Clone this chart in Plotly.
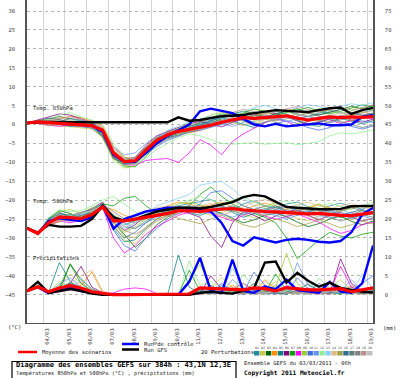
import plotly.graph_objects as go

# ---------------- DATA ----------------
hours = list(range(0, 385, 12))
date_ticks = [18 + 24 * k for k in range(16)]
date_labels = ["04/03", "05/03", "06/03", "07/03", "08/03", "09/03", "10/03", "11/03",
               "12/03", "13/03", "14/03", "15/03", "16/03", "17/03", "18/03", "19/03"]
left_ticks = list(range(-45, 31, 5))
right_ticks = list(range(0, 76, 5))

member_colors = ["#1f8a9a", "#c8c850", "#006400", "#ff8c00", "#008080", "#800080", "#00a000",
                 "#ff00ff", "#9acd32", "#4169e1", "#6495ed", "#90ee90", "#87cefa", "#deb887",
                 "#a0a040", "#2f6f8f", "#5f7f7f", "#808080", "#bc8f8f", "#c0c0c0"]

t850_members = [
    [0.4,0.9,1.2,0.8,0.2,-0.3,-0.6,-2.5,-8.2,-10.4,-10.1,-7.0,-3.5,-2.0,-1.2,-0.5,0.3,1.2,2.0,3.1,2.5,1.8,3.0,3.5,2.8,1.5,2.2,3.0,3.8,3.2,2.5,3.1,3.9],
    [0.4,0.6,0.1,-0.4,-0.6,-0.8,-1.2,-3.0,-9.0,-10.8,-10.5,-8.0,-5.5,-3.8,-2.5,-1.8,-1.0,-0.2,1.0,1.5,0.8,0.2,1.3,2.0,2.6,2.0,0.8,1.2,1.8,0.5,1.0,2.2,2.8],
    [0.4,1.0,1.6,2.1,1.5,0.8,0.3,-3.5,-9.0,-10.2,-10.0,-7.5,-4.8,-3.0,-2.0,-1.0,-0.5,0.5,1.5,2.8,3.5,2.9,2.0,2.8,3.5,4.2,3.0,2.5,3.2,4.0,4.8,4.1,5.0],
    [0.4,0.5,0.8,1.5,2.2,1.8,0.9,-0.5,-5.8,-8.6,-9.3,-6.0,-3.2,-2.0,-1.5,-2.2,-1.6,-0.5,0.8,1.2,2.4,3.0,2.2,1.5,2.0,2.8,2.2,1.0,0.5,1.5,2.7,3.4,2.6],
    [0.4,0.8,0.4,0.0,-0.5,-0.2,0.2,-1.8,-7.8,-10.1,-9.5,-6.2,-4.0,-3.5,-2.8,-1.5,-0.2,1.0,1.8,1.0,0.2,-0.8,0.5,1.8,2.5,1.2,0.0,-0.5,0.8,1.6,0.9,0.2,1.0],
    [0.4,1.2,1.9,2.8,2.5,1.6,0.5,-2.2,-8.5,-9.8,-8.8,-5.5,-3.0,-1.8,-0.8,0.2,0.8,0.2,-0.6,0.5,1.6,2.5,3.3,2.9,2.1,1.0,-0.2,0.6,1.5,2.3,1.2,0.6,1.4],
    [0.4,0.7,0.2,0.5,0.9,0.4,-0.2,-2.8,-8.8,-11.0,-11.2,-8.5,-5.0,-3.2,-1.5,-0.5,0.5,1.8,2.8,2.2,3.0,4.1,3.5,2.5,3.2,3.8,4.5,3.6,2.8,3.5,4.3,5.2,4.6],
    [0.4,0.3,-0.2,-0.5,-0.1,0.3,-0.4,-1.5,-7.0,-10.5,-10.8,-9.5,-9.2,-9.0,-10.0,-7.5,-4.0,-5.5,-8.0,-4.5,-2.5,-1.0,0.5,1.5,0.8,-0.5,0.8,1.8,1.2,0.3,1.0,2.0,1.5],
    [0.4,0.9,1.5,1.2,0.6,0.0,-0.8,-3.5,-9.5,-11.5,-11.0,-7.2,-4.5,-2.5,-1.0,0.5,1.2,2.5,3.2,2.5,1.5,2.2,3.0,4.0,3.4,2.5,3.1,4.2,3.5,2.8,3.6,4.5,3.8],
    [0.4,0.6,1.0,0.4,-0.3,-0.6,-0.9,-2.0,-7.2,-9.5,-9.8,-7.8,-5.8,-4.2,-3.0,-2.0,-1.5,-0.8,0.0,0.8,1.5,0.5,-0.5,0.2,1.0,0.3,-0.8,-1.5,-0.8,0.2,-0.5,-1.2,-0.4],
    [0.4,1.1,0.7,0.2,0.5,1.0,0.6,-1.2,-6.0,-8.0,-7.5,-5.0,-3.0,-2.2,-1.8,-1.0,0.0,0.8,0.3,-0.5,0.5,1.5,2.5,1.8,0.8,1.5,2.2,1.2,0.4,1.2,2.0,1.0,0.5],
    [0.4,0.5,1.3,2.5,3.2,2.0,1.2,0.0,-5.0,-8.5,-10.5,-9.0,-6.5,-5.0,-3.5,-2.5,-3.0,-4.0,-5.0,-5.2,-5.0,-4.8,-5.2,-5.0,-4.8,-5.3,-5.0,-4.5,-3.0,-2.2,-2.5,-2.0,-1.5],
    [0.4,0.8,0.5,1.0,1.4,0.8,0.0,-2.5,-8.0,-10.0,-9.2,-6.5,-3.8,-1.5,-0.5,0.8,1.5,2.2,1.5,2.5,3.6,4.4,5.0,4.2,3.5,4.5,5.2,4.8,4.0,4.8,5.5,5.0,5.8],
    [0.4,0.7,1.1,1.8,1.2,0.5,-0.2,-1.5,-7.5,-9.6,-9.4,-7.0,-4.2,-2.8,-2.0,-1.5,-0.8,-0.2,0.5,1.8,2.6,3.2,2.8,3.6,4.2,3.5,2.8,3.5,4.0,3.2,2.5,3.0,3.6],
    [0.4,0.2,-0.3,0.3,0.8,0.5,0.0,-1.0,-6.8,-9.0,-9.6,-7.5,-4.8,-3.2,-2.5,-1.8,-1.0,0.2,1.2,0.5,-0.2,0.8,1.5,0.6,-0.5,0.2,1.0,1.8,2.5,1.8,1.0,1.8,2.4],
    [0.4,0.9,1.7,1.3,0.7,0.2,-0.5,-3.0,-8.8,-10.2,-10.0,-7.5,-5.0,-3.5,-2.2,-1.0,0.0,1.0,2.0,2.8,2.0,1.2,2.0,2.8,3.6,2.8,2.0,2.6,3.3,4.0,3.2,2.5,3.0],
    [0.4,0.6,0.3,0.8,1.6,1.2,0.4,-1.8,-7.5,-9.2,-8.6,-6.0,-3.5,-2.5,-1.8,-0.8,-0.2,0.5,1.2,1.8,1.0,0.0,0.6,1.4,2.0,1.0,0.2,0.8,1.4,0.8,0.0,-0.8,-0.2],
    [0.4,1.0,0.8,0.3,0.0,-0.4,-1.0,-3.2,-9.0,-10.6,-10.2,-7.8,-5.2,-3.8,-2.8,-2.0,-1.2,-0.5,0.2,1.0,1.8,2.5,1.8,1.0,1.5,2.3,3.0,2.2,1.5,2.2,3.0,2.4,1.8],
    [0.4,0.5,0.9,1.6,2.0,1.4,0.8,-0.8,-6.2,-8.8,-9.0,-6.5,-4.0,-2.2,-1.2,-0.2,0.6,1.5,2.4,3.2,4.0,3.4,2.6,3.3,4.0,4.8,4.0,3.2,4.0,4.6,3.8,4.5,5.2],
    [0.4,0.8,1.4,0.9,0.3,-0.2,-0.7,-2.2,-8.0,-9.9,-9.7,-6.8,-4.5,-3.0,-2.0,-1.2,-0.6,0.2,1.0,1.6,2.2,1.5,0.8,1.5,2.2,2.8,2.2,1.6,2.3,3.0,2.4,1.8,2.6],
]

t500_members = [
    [-27.4,-28.8,-25.5,-23.5,-24.2,-23.8,-23.0,-21.5,-24.0,-26.5,-25.5,-24.0,-23.0,-22.0,-21.5,-21.0,-20.5,-19.8,-21.5,-22.8,-21.0,-20.2,-21.5,-22.0,-21.0,-20.5,-21.8,-22.5,-21.5,-20.8,-21.6,-22.4,-21.2],
    [-27.4,-28.7,-26.2,-24.8,-25.5,-24.5,-23.6,-21.2,-26.5,-30.5,-31.5,-28.0,-25.5,-24.0,-23.5,-22.5,-23.0,-24.0,-23.2,-22.5,-23.8,-24.6,-23.5,-22.8,-23.6,-24.8,-25.5,-24.2,-23.5,-24.5,-25.2,-24.0,-23.6],
    [-27.4,-28.9,-25.0,-22.8,-23.5,-24.6,-22.8,-20.8,-25.8,-29.0,-32.5,-30.0,-26.5,-24.5,-23.0,-22.2,-21.5,-22.5,-23.5,-24.8,-26.0,-25.2,-24.0,-23.5,-24.4,-25.8,-27.0,-26.2,-25.0,-24.2,-25.6,-26.5,-25.5],
    [-27.4,-28.6,-26.5,-25.5,-24.0,-23.2,-22.5,-21.8,-22.5,-24.0,-25.0,-24.5,-22.8,-21.5,-20.5,-21.0,-22.0,-21.2,-20.5,-21.8,-22.6,-21.5,-20.8,-21.6,-22.5,-23.0,-22.0,-21.2,-22.0,-22.8,-22.0,-21.3,-22.1],
    [-27.4,-28.8,-24.8,-23.2,-24.6,-25.0,-23.5,-21.5,-27.5,-31.0,-30.5,-27.5,-25.0,-23.0,-22.5,-23.2,-24.0,-23.0,-22.0,-23.2,-24.5,-23.6,-22.5,-21.5,-22.8,-24.0,-23.0,-22.2,-23.4,-24.6,-23.8,-22.8,-23.5],
    [-27.4,-28.7,-25.8,-24.0,-24.8,-23.6,-22.2,-20.5,-24.5,-28.0,-26.5,-24.0,-22.5,-21.8,-22.5,-23.5,-24.5,-29.5,-32.5,-26.0,-23.0,-24.0,-25.5,-24.2,-23.0,-22.5,-24.0,-25.2,-24.0,-23.2,-24.5,-25.5,-24.8],
    [-27.4,-28.9,-26.0,-24.5,-23.8,-24.2,-23.2,-21.0,-21.5,-19.5,-19.0,-21.5,-23.5,-24.0,-22.5,-21.5,-18.5,-16.5,-19.0,-21.0,-22.5,-23.5,-24.5,-26.0,-30.0,-35.5,-33.0,-30.5,-28.5,-29.5,-30.0,-29.0,-28.5],
    [-27.4,-28.8,-26.8,-25.5,-26.0,-25.2,-24.0,-22.0,-30.0,-34.0,-32.0,-29.0,-27.0,-25.5,-24.0,-23.2,-22.8,-23.5,-24.5,-25.5,-24.0,-23.0,-24.2,-25.0,-24.4,-23.6,-24.8,-25.8,-27.5,-28.8,-28.0,-26.5,-25.8],
    [-27.4,-28.7,-25.2,-23.0,-22.5,-23.5,-22.0,-21.2,-25.0,-28.5,-27.0,-25.0,-23.5,-22.0,-21.0,-20.5,-21.2,-22.0,-21.0,-20.2,-21.5,-22.5,-21.6,-20.6,-21.8,-22.6,-21.8,-21.0,-22.2,-23.0,-22.2,-21.5,-22.3],
    [-27.4,-28.8,-26.0,-24.2,-25.0,-24.0,-23.5,-21.6,-28.0,-32.0,-33.5,-30.0,-27.5,-25.0,-23.5,-22.5,-21.0,-18.0,-17.5,-19.5,-21.5,-22.5,-23.5,-22.5,-21.5,-22.8,-24.0,-23.2,-22.5,-23.8,-24.8,-24.0,-23.0],
    [-27.4,-28.6,-25.5,-24.4,-25.2,-24.8,-23.8,-21.4,-24.0,-26.0,-27.5,-26.0,-24.5,-23.5,-23.0,-22.5,-22.0,-22.8,-23.6,-24.5,-23.5,-22.5,-23.2,-24.2,-25.0,-24.0,-23.0,-23.8,-24.8,-24.0,-23.2,-24.2,-25.0],
    [-27.4,-28.8,-24.5,-22.5,-23.0,-22.8,-21.5,-20.0,-19.0,-21.0,-23.0,-24.5,-24.0,-22.5,-21.0,-20.0,-19.0,-19.8,-21.0,-20.0,-19.2,-20.5,-21.8,-21.0,-20.2,-21.2,-22.5,-21.8,-20.8,-21.6,-22.4,-21.4,-20.6],
    [-27.4,-28.7,-26.2,-25.0,-24.5,-23.8,-22.8,-21.2,-25.5,-27.5,-26.0,-23.5,-21.5,-20.5,-19.5,-18.5,-16.0,-15.5,-15.0,-17.0,-19.5,-21.5,-23.0,-24.0,-23.0,-22.0,-23.5,-24.5,-23.8,-22.6,-23.5,-24.2,-23.5],
    [-27.4,-28.9,-25.8,-23.8,-24.5,-25.0,-23.0,-21.8,-23.5,-25.5,-24.5,-23.0,-22.0,-21.5,-21.8,-22.5,-21.5,-20.8,-21.8,-22.6,-21.8,-20.5,-19.8,-21.0,-22.0,-21.2,-20.5,-21.5,-22.3,-21.5,-20.8,-21.8,-22.5],
    [-27.4,-28.7,-26.5,-25.8,-25.0,-24.2,-23.5,-22.2,-26.0,-29.5,-30.0,-27.0,-25.0,-24.0,-24.8,-25.5,-26.2,-25.0,-24.0,-25.2,-26.5,-27.2,-26.0,-25.0,-25.8,-27.0,-26.2,-25.2,-26.2,-27.3,-26.5,-25.5,-26.3],
    [-27.4,-28.8,-25.0,-23.6,-24.0,-23.2,-22.5,-21.0,-27.0,-30.0,-28.5,-26.0,-24.0,-22.8,-22.0,-21.5,-22.2,-23.0,-22.2,-21.5,-22.5,-23.5,-22.8,-22.0,-23.0,-24.0,-23.2,-22.2,-23.0,-24.0,-23.2,-22.5,-23.5],
    [-27.4,-28.7,-26.0,-24.8,-24.4,-24.8,-23.8,-21.5,-24.8,-27.0,-27.5,-25.5,-24.0,-23.0,-22.2,-22.8,-23.5,-22.8,-22.0,-22.8,-23.8,-23.0,-22.2,-23.2,-24.2,-23.5,-22.6,-23.4,-24.5,-25.5,-24.6,-23.8,-24.5],
    [-27.4,-28.8,-25.4,-24.0,-24.8,-24.2,-23.2,-21.2,-23.0,-25.0,-26.0,-25.0,-23.8,-22.6,-21.8,-22.2,-23.0,-22.4,-21.6,-22.4,-23.2,-22.4,-21.6,-22.5,-23.4,-22.8,-22.0,-22.8,-23.6,-22.8,-22.0,-22.8,-23.8],
    [-27.4,-28.7,-26.4,-25.2,-25.6,-25.0,-24.0,-21.8,-26.0,-28.0,-29.0,-27.5,-25.5,-24.2,-23.5,-22.8,-22.2,-23.2,-24.0,-23.0,-22.2,-23.2,-24.0,-23.2,-22.5,-23.4,-24.2,-25.0,-24.2,-23.6,-24.6,-25.5,-24.8],
    [-27.4,-28.8,-25.6,-24.6,-24.0,-23.5,-22.8,-21.4,-25.0,-27.0,-26.0,-24.2,-23.2,-22.5,-22.0,-21.6,-22.4,-23.0,-22.4,-21.8,-22.6,-23.4,-22.8,-22.2,-23.2,-24.0,-23.4,-22.6,-23.4,-24.2,-23.6,-23.0,-23.8],
]

precip_members = [
    [1.0,2.2,0.5,1.5,3.0,1.5,0.5,0.2,0,0,0,0,0,0,0,0.5,1.0,0.5,2.5,1.0,0.3,0.8,0.2,0.5,1.5,0.5,0.2,1.0,0.5,0.3,2.0,0.8,1.2],
    [1.0,2.0,0.3,2.5,5.5,3.0,1.0,0.2,0,0,0,0,0,0,0,0,0.3,2.0,4.5,2.0,0.5,0.2,1.0,3.5,1.0,0.2,0.5,0.3,1.5,4.0,1.0,0.5,0.8],
    [1.0,2.5,0.8,1.0,8.2,4.0,1.5,0.3,0,0,0,0,0,0,0,0,0.2,1.0,0.5,0.2,1.5,0.5,0.3,0.8,0.2,1.2,2.8,1.0,0.3,0.5,0.2,1.0,0.6],
    [1.0,2.2,0.4,0.8,1.5,2.5,6.0,0.5,0,0,0,0,0,0,0,0,0.5,0.2,1.0,2.5,1.2,0.5,4.0,1.5,0.5,0.3,1.0,0.5,0.2,0.8,2.2,0.6,1.0],
    [1.0,2.4,0.6,8.5,3.5,1.0,0.5,0.2,0,0,0,0,0,0,10.5,2.0,0.5,0.3,1.2,0.5,0.2,0.6,1.5,0.4,0.2,0.8,0.3,1.5,0.6,0.2,1.2,0.5,2.0],
    [1.0,2.1,0.4,1.2,3.0,7.5,2.0,0.5,0,0,0,0,0,0,0,0,0.3,5.0,1.5,0.5,0.2,1.0,2.5,0.8,0.3,0.6,1.8,0.5,0.2,9.5,3.0,1.0,0.5],
    [1.0,2.3,0.5,2.0,8.0,3.0,0.8,0.2,0,0,0,0,0,0,0,6.5,1.0,0.5,2.0,0.8,0.3,1.2,0.5,5.5,1.0,0.3,0.6,1.0,0.4,0.2,1.5,0.8,0.4],
    [1.0,2.0,0.3,0.8,1.2,1.8,0.8,0.3,0.5,1.5,1.8,1.5,0.3,0,0,0,0.2,0.8,0.3,1.5,3.0,1.0,0.5,0.2,2.5,1.0,0.4,0.2,0.8,7.5,2.0,0.5,1.0],
    [1.0,2.2,0.6,3.5,2.0,1.0,0.3,0,0,0,0,0,0,0,0,4.0,8.0,2.0,0.5,1.0,3.0,1.5,0.5,2.0,11.0,3.0,0.8,0.3,1.2,0.5,0.3,1.0,0.8],
    [1.0,2.1,0.4,1.5,2.5,1.5,0.5,0.1,0,0,0,0,0,0,0,0,1.5,0.5,3.0,1.0,0.5,6.0,2.5,1.0,0.3,4.5,1.5,0.5,0.2,0.8,0.4,3.0,5.0],
    [1.0,2.3,0.5,2.8,4.5,2.0,0.8,0.2,0,0,0,0,0,0,0,0,0.4,1.2,0.5,4.0,1.5,0.5,0.3,1.0,0.5,8.5,2.5,1.0,0.4,0.8,4.0,1.0,0.5],
    [1.0,2.5,0.7,1.8,3.5,1.2,0.4,0.1,0,0,0,0,0,0,0,9.0,2.5,3.5,1.0,0.5,5.5,2.0,0.5,0.3,1.0,0.4,0.2,4.5,1.5,0.5,0.3,0.8,1.5],
    [1.0,2.2,0.5,1.0,2.0,4.5,1.2,0.3,0,0,0,0,0,0,0,0,0.5,0.2,0.8,7.0,2.0,0.8,0.3,0.5,1.2,0.4,3.5,1.0,0.3,0.5,0.2,5.5,1.5],
    [1.0,2.1,0.4,1.2,2.8,5.0,6.5,1.0,0,0,0,0,0,0,0,0,0.3,1.0,0.4,0.2,1.5,0.6,3.5,1.0,0.3,0.8,0.3,0.2,2.5,0.8,0.4,0.2,0.6],
    [1.0,2.4,0.6,2.2,1.5,0.8,0.3,0.1,0,0,0,0,0,0,0,0,2.0,1.0,0.5,1.8,0.6,0.3,1.2,2.5,0.8,0.4,1.5,0.6,0.3,1.0,0.4,0.8,0.3],
    [1.0,2.2,0.5,1.6,3.2,2.0,0.7,0.2,0,0,0,0,0,0,0,0,0.8,2.5,1.0,0.4,0.8,3.0,1.0,0.4,0.2,1.2,0.5,3.0,1.0,0.4,0.8,0.3,1.0],
    [1.0,2.0,0.4,1.4,2.2,1.2,0.5,0.1,0,0,0,0,0,0,0,0,0.5,0.3,1.5,0.6,0.3,1.0,0.4,0.2,0.6,2.0,0.8,0.3,0.5,1.8,0.6,0.3,0.9],
    [1.0,2.3,0.5,1.8,2.5,1.5,0.6,0.2,0,0,0,0,0,0,0,0,0.2,0.8,0.3,1.2,0.5,0.2,0.8,1.5,0.5,0.2,0.6,1.2,3.5,1.0,0.4,0.2,0.5],
    [1.0,2.1,0.3,1.2,2.0,3.5,1.0,0.2,0,0,0,0,0,0,0,0,0.4,1.5,0.6,0.3,1.0,0.4,0.2,0.8,1.6,0.6,0.3,0.5,0.2,1.0,2.5,0.8,0.4],
    [1.0,2.2,0.5,1.5,2.6,1.8,0.6,0.2,0,0,0,0,0,0,0,0,0.3,0.6,1.2,0.5,0.2,0.8,0.4,1.0,0.4,0.2,0.7,0.3,1.0,0.5,0.3,0.6,0.4],
]

ctrl_t850 = [0.4,0.6,0.6,0.4,0.2,0.0,-0.3,-2.0,-8.0,-9.8,-9.9,-7.5,-5.0,-3.0,-1.5,0.0,3.5,4.2,3.6,3.0,1.5,0.0,-0.5,0.2,-0.5,-0.2,0.0,0.3,-0.2,-0.2,0.0,2.0,2.5]
gfs_t850 = [0.4,0.7,0.7,0.6,0.6,0.6,0.6,0.6,0.6,0.6,0.6,0.6,0.6,0.6,1.9,1.0,1.2,1.7,2.2,2.3,2.5,3.0,3.4,3.8,3.6,3.4,3.3,3.8,4.3,4.5,2.8,3.8,4.4]
mean_t850 = [0.4,0.7,0.5,0.3,0.1,-0.1,-0.3,-1.5,-7.5,-9.8,-9.6,-6.8,-4.2,-2.7,-1.8,-1.3,-0.8,-0.2,0.6,1.2,1.8,1.6,1.8,2.2,2.3,1.7,1.2,1.6,2.0,1.8,2.0,1.9,2.1]

ctrl_t500 = [-27.4,-28.8,-25.5,-24.8,-25.2,-25.5,-24.5,-21.5,-27.5,-25.0,-24.0,-23.0,-22.5,-22.0,-22.0,-22.2,-22.5,-23.0,-26.0,-30.8,-32.0,-29.8,-30.5,-31.2,-30.5,-30.2,-30.5,-31.0,-31.2,-30.8,-28.5,-23.8,-22.0]
gfs_t500 = [-27.4,-28.6,-26.5,-27.0,-27.0,-26.8,-25.0,-21.5,-24.5,-25.5,-25.0,-24.0,-23.0,-22.5,-22.0,-22.0,-22.2,-21.8,-21.2,-20.5,-19.2,-18.6,-19.0,-20.5,-21.8,-22.0,-22.3,-22.4,-22.4,-22.3,-21.6,-21.5,-21.5]
mean_t500 = [-27.4,-28.8,-26.0,-24.5,-24.6,-24.9,-23.8,-21.8,-25.5,-25.5,-25.0,-24.6,-24.0,-23.5,-22.8,-22.8,-23.0,-22.6,-22.3,-22.2,-22.6,-22.9,-23.0,-23.1,-23.3,-23.4,-23.6,-23.5,-23.8,-24.0,-24.1,-23.6,-23.3]

ctrl_precip = [1.0,2.0,0.4,1.2,2.0,1.0,0.5,0.1,0,0,0,0,0,0,0,3.4,9.8,1.0,0.5,9.3,1.0,0.5,2.1,1.5,4.0,1.2,0.8,0.5,3.4,0.8,0.5,3.0,13.0]
gfs_precip = [1.0,3.4,0.5,1.0,1.5,1.0,0.3,0,0,0,0,0,0,0,0,0,0.5,0.8,0.5,0.3,1.0,1.8,8.5,8.8,3.2,5.8,3.7,2.1,3.2,1.8,1.3,0.8,0.6]
mean_precip = [1.0,2.1,0.8,1.8,2.4,1.8,0.8,0.3,0,0,0,0,0,0,0,0.2,1.8,1.6,1.5,1.4,1.3,1.8,1.6,1.0,1.9,1.5,1.3,1.3,1.4,1.6,0.8,1.3,1.8]

# ---------------- FIGURE ----------------
W, H = 400, 378
def px(x):
    return x / W
def py(y):
    return 1 - y / H

fig = go.Figure()

def add_group(t850, t500, prc, color, width):
    fig.add_trace(go.Scatter(x=hours + [None] + hours, y=t850 + [None] + t500,
                             mode="lines", line=dict(color=color, width=width),
                             hoverinfo="skip", yaxis="y"))
    fig.add_trace(go.Scatter(x=hours, y=prc, mode="lines",
                             line=dict(color=color, width=width),
                             hoverinfo="skip", yaxis="y2"))

for i in range(20):
    add_group(t850_members[i], t500_members[i], precip_members[i], member_colors[i], 0.75)
add_group(ctrl_t850, ctrl_t500, ctrl_precip, "#0000ff", 2.4)
add_group(gfs_t850, gfs_t500, gfs_precip, "#000000", 2.4)
add_group(mean_t850, mean_t500, mean_precip, "#ff0000", 3.2)

mono = "DejaVu Sans Mono"
tick_font = dict(family=mono, size=5.5, color="#444444")

fig.update_layout(
    width=W, height=H, margin=dict(l=0, r=0, t=0, b=0),
    paper_bgcolor="white", plot_bgcolor="white", showlegend=False,
    xaxis=dict(domain=[27 / W, 373 / W], range=[0, 384], tickmode="array",
               tickvals=date_ticks, ticktext=date_labels, tickangle=-90,
               tickfont=tick_font, showgrid=True, gridcolor="#d4d4d4", gridwidth=1,
               showline=True, linecolor="#555555", linewidth=1.2, zeroline=False,
               ticks="", ticklabelstandoff=2, ticklabelshift=4),
    yaxis=dict(domain=[(H - 323) / H, 1], range=[-52.47, 32.91], tickmode="array",
               tickvals=left_ticks, tickfont=tick_font, showgrid=True,
               gridcolor="#b4b4b4", griddash="dot", gridwidth=1,
               showline=True, linecolor="#555555", linewidth=1.5, zeroline=False,
               ticks="", ticklabelstandoff=9),
    yaxis2=dict(overlaying="y", side="right", range=[-7.47, 77.91], tickmode="array",
                tickvals=right_ticks, tickfont=tick_font, showgrid=False,
                showline=True, linecolor="#555555", linewidth=1.5, zeroline=False,
                ticks="", ticklabelstandoff=9),
)

ann = []
def text(x, y, s, size=5.5, bold=False, xanchor="left", color="#222222"):
    ann.append(dict(x=px(x), y=py(y), xref="paper", yref="paper", text=("<b>%s</b>" % s) if bold else s,
                    showarrow=False, xanchor=xanchor, yanchor="middle",
                    font=dict(family=mono, size=size, color=color)))

text(31, 108, "Temp. 850hPa", 5.5)
text(31, 201, "Temp. 500hPa", 5.5)
text(31, 258, "Précipitations", 5.5)
text(6, 327, "(°C)", 5.5)
text(381, 328, "(mm)", 5.5)
text(40, 352, "Moyenne des scénarios", 5.5)
text(142, 344, "Run de contrôle", 5.5)
text(142, 350, "Run GFS", 5.5)
text(199, 352, "20 Perturbations", 5.5)
text(14, 365, "Diagramme des ensembles GEFS sur 384h : 43,1N 12,3E", 7, bold=True, color="#000000")
text(14, 373, "Températures 850hPa et 500hPa (°C) , précipitations (mm)", 5.3)
text(242, 363, "Ensemble GEFS du 03/03/2011 - 06h", 5.4)
text(242, 373, "Copyright 2011 Meteociel.fr", 6.2, bold=True, color="#000000")

shapes = []
def seg(x0, x1, y, color, w):
    shapes.append(dict(type="line", xref="paper", yref="paper", x0=px(x0), x1=px(x1),
                       y0=py(y), y1=py(y), line=dict(color=color, width=w)))
seg(18, 37, 352, "#ff0000", 2.5)
seg(122, 139, 344, "#0000ff", 2.5)
seg(122, 139, 349.5, "#000000", 2.5)

bw = (373 - 254) / 20
for i, c in enumerate(member_colors):
    x0 = 254 + i * bw
    shapes.append(dict(type="rect", xref="paper", yref="paper", x0=px(x0), x1=px(x0 + bw - 0.6),
                       y0=py(355.5), y1=py(351), fillcolor=c, line=dict(width=0)))
    ann.append(dict(x=px(x0 + bw / 2), y=py(347.5), xref="paper", yref="paper",
                    text="%02d" % (i + 1), showarrow=False, xanchor="center", yanchor="middle",
                    font=dict(family=mono, size=3.2, color="#333333")))

shapes.append(dict(type="rect", xref="paper", yref="paper", x0=px(12), x1=px(236),
                   y0=py(361.5), y1=py(379), line=dict(color="#000000", width=1.2),
                   fillcolor="rgba(0,0,0,0)"))

fig.update_layout(annotations=ann, shapes=shapes)
fig.write_html("out.html", config={"displayModeBar": False},
               post_script="document.body.style.margin='0';document.body.style.overflow='hidden';")
